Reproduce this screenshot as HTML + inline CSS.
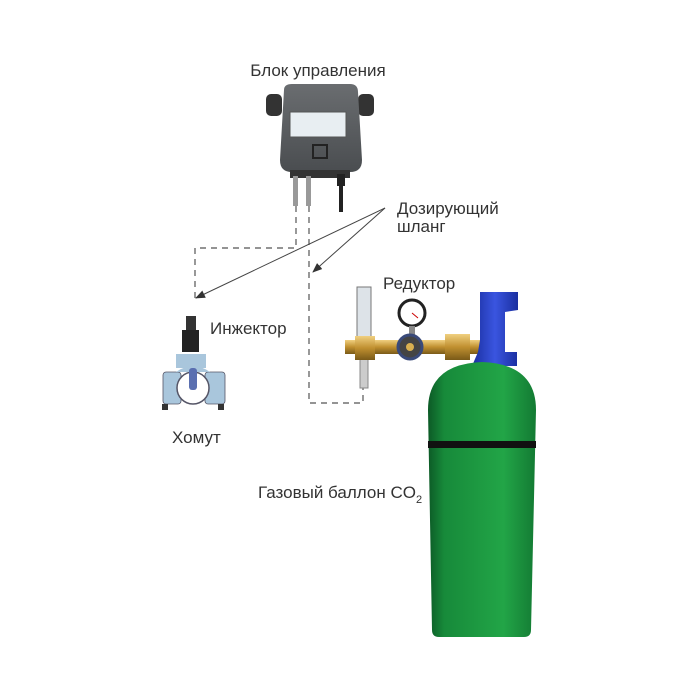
<!DOCTYPE html>
<html><head><meta charset="utf-8"><style>
html,body{margin:0;padding:0;background:#fff;}
svg{display:block;font-family:"Liberation Sans",sans-serif;}
</style></head><body>
<svg width="700" height="700" viewBox="0 0 700 700">
<defs>
<linearGradient id="g" x1="0" x2="1"><stop offset="0" stop-color="#0c5a26"/><stop offset="0.15" stop-color="#178a3a"/><stop offset="0.7" stop-color="#22a547"/><stop offset="1" stop-color="#137a33"/></linearGradient>
<linearGradient id="box" x1="0" x2="0" y1="0" y2="1"><stop offset="0" stop-color="#6a6d70"/><stop offset="1" stop-color="#4a4d50"/></linearGradient>
<linearGradient id="brass" x1="0" x2="0" y1="0" y2="1"><stop offset="0" stop-color="#f0d080"/><stop offset="0.5" stop-color="#c09030"/><stop offset="1" stop-color="#7a5a18"/></linearGradient>
<linearGradient id="blue" x1="0" x2="1"><stop offset="0" stop-color="#1a2fa0"/><stop offset="0.5" stop-color="#3a55e0"/><stop offset="1" stop-color="#1a2fa0"/></linearGradient>
<marker id="ar" markerWidth="10" markerHeight="8" refX="9" refY="4" orient="auto" markerUnits="userSpaceOnUse"><path d="M0,0 L10,4 L0,8 z" fill="#333"/></marker>
</defs>
<text x="318" y="76" font-size="17" text-anchor="middle" fill="#333">Блок управления</text>
<!-- control box -->
<rect x="266" y="94" width="16" height="22" rx="5" fill="#333"/>
<rect x="358" y="94" width="16" height="22" rx="5" fill="#333"/>
<path d="M284,90 Q284,84 292,84 L350,84 Q358,84 358,92 L362,160 Q362,172 350,172 L292,172 Q280,172 280,160 Z" fill="url(#box)"/>
<rect x="290" y="112" width="56" height="25" fill="#e8eef2" stroke="#555"/>
<rect x="313" y="145" width="14" height="13" fill="none" stroke="#222" stroke-width="2"/>
<rect x="290" y="170" width="60" height="8" fill="#333"/>
<rect x="293" y="176" width="5" height="30" fill="#999"/>
<rect x="306" y="176" width="5" height="30" fill="#999"/>
<rect x="337" y="174" width="8" height="12" fill="#222"/>
<rect x="339" y="184" width="4" height="28" fill="#222"/>
<!-- dashed -->
<g stroke="#555" stroke-width="1.2" fill="none" stroke-dasharray="6,5">
<path d="M296,206 L296,248 L195,248 L195,300"/>
<path d="M309,206 L309,250 L309,403 L363,403 L363,385"/>
</g>
<line x1="385" y1="208" x2="196" y2="298" stroke="#444" stroke-width="1" marker-end="url(#ar)"/>
<line x1="385" y1="208" x2="313" y2="272" stroke="#444" stroke-width="1" marker-end="url(#ar)"/>
<text x="397" y="214" font-size="17" fill="#333">Дозирующий</text>
<text x="397" y="232" font-size="17" fill="#333">шланг</text>
<!-- injector -->
<rect x="186" y="316" width="10" height="14" fill="#333"/>
<rect x="182" y="330" width="17" height="22" fill="#222"/>
<path d="M176,354 L206,354 L206,368 L176,368 Z" fill="#a9c6dc"/>
<rect x="163" y="372" width="18" height="32" rx="3" fill="#a9c6dc" stroke="#556" stroke-width="0.8"/>
<rect x="205" y="372" width="20" height="32" rx="3" fill="#a9c6dc" stroke="#556" stroke-width="0.8"/>
<circle cx="193" cy="388" r="16" fill="#fff" stroke="#556" stroke-width="1.5"/>
<path d="M176,372 Q193,360 210,372" fill="#a9c6dc"/>
<rect x="189" y="368" width="8" height="22" rx="3" fill="#5a6fb0"/>
<rect x="162" y="404" width="6" height="6" fill="#333"/><rect x="218" y="404" width="6" height="6" fill="#333"/>
<text x="210" y="334" font-size="17" fill="#333">Инжектор</text>
<text x="172" y="443" font-size="17" fill="#333">Хомут</text>
<!-- regulator -->
<text x="383" y="289" font-size="17" fill="#333">Редуктор</text>
<rect x="357" y="287" width="14" height="56" fill="#dde3e8" stroke="#777"/>
<rect x="360" y="358" width="8" height="30" fill="#ccc" stroke="#888"/>
<rect x="345" y="340" width="135" height="14" fill="url(#brass)"/>
<rect x="355" y="336" width="20" height="24" fill="url(#brass)"/>
<circle cx="412" cy="313" r="13" fill="#fff" stroke="#222" stroke-width="3"/>
<line x1="412" y1="313" x2="418" y2="318" stroke="#c00"/>
<rect x="409" y="326" width="6" height="10" fill="#888"/>
<circle cx="410" cy="347" r="12" fill="#444" stroke="#3a4a7a" stroke-width="3"/>
<circle cx="410" cy="347" r="4" fill="#d9b050"/>
<rect x="445" y="334" width="25" height="26" fill="url(#brass)"/>
<!-- cylinder -->
<path d="M480,292 L518,292 L518,310 L505,312 L505,352 L517,352 L517,366 L472,366 L478,352 L480,340 Z" fill="url(#blue)"/>
<path d="M428,410 Q428,364 482,362 Q536,364 536,410 L531,630 Q531,637 524,637 L439,637 Q432,637 432,630 Z" fill="url(#g)"/>
<rect x="428" y="441" width="108" height="7" fill="#111"/>
<text x="258" y="498" font-size="17" fill="#333">Газовый баллон CO<tspan font-size="11" dy="5">2</tspan></text>
</svg>
</body></html>
